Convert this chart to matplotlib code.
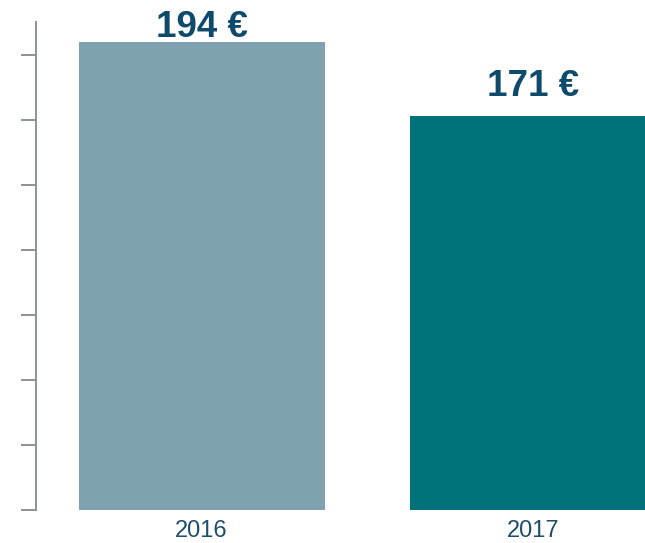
import matplotlib.pyplot as plt

years = ['2016', '2017']
values = [194, 171]
colors = ['#7fa2b1', '#007279']

W, H = 645, 543
fig = plt.figure(figsize=(W / 100, H / 100), dpi=100)
# axes from x=36 to right edge, y=22 to 510 (pixels from top)
ax = fig.add_axes([36 / W, (H - 510) / H, (W - 36) / W, (510 - 22) / H])

x = range(len(years))
bars = ax.bar(x, values, width=0.743, color=colors)
ax.set_xlim(-0.5, 1.338)
ax.set_ylim(50, 200)

for i, (b, v) in enumerate(zip(bars, values)):
    pad = 3.6 if v == max(values) else 14.4
    ax.annotate(f'{v} €', (b.get_x() + b.get_width() / 2, v),
                xytext=(0, pad), textcoords='offset points',
                ha='center', va='baseline', fontsize=26.5, fontweight='bold',
                color='#0d4a6b', family='Liberation Sans', annotation_clip=False)

ax.set_xticks(list(x))
ax.set_xticklabels(years, fontsize=17, color='#1f4e6b', family='Liberation Sans')
ax.tick_params(axis='x', length=0, pad=7.5)
ax.set_yticks(range(50, 200, 20))
ax.set_yticklabels([])
ax.tick_params(axis='y', direction='out', length=10.8, width=1.4, color='#8a929c')

for s in ['top', 'right', 'bottom']:
    ax.spines[s].set_visible(False)
ax.spines['left'].set_color('#8a929c')
ax.spines['left'].set_linewidth(1.4)

fig.savefig('out.png', dpi=100)
